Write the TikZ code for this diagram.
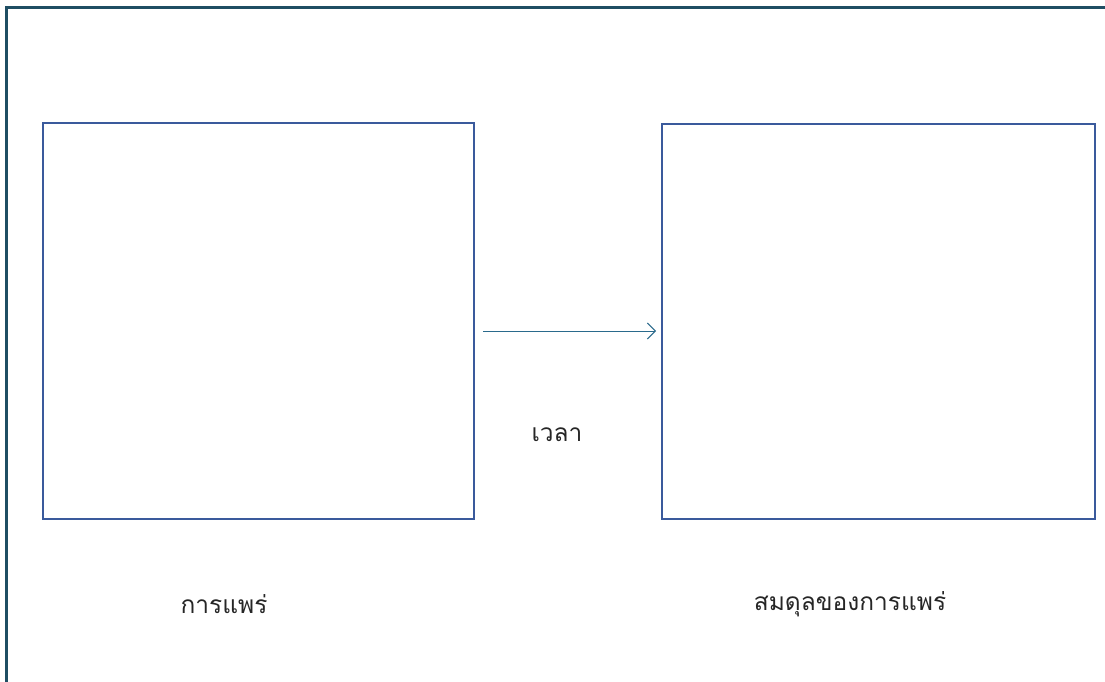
\documentclass[tikz,border=0pt]{standalone}
\usepackage{fontspec}
\newfontfamily\thaifont[Script=Thai]{Loma}
\usetikzlibrary{arrows.meta}
\definecolor{framecol}{HTML}{1F4E63}
\definecolor{boxcol}{HTML}{3A5A9C}
\definecolor{arrowcol}{HTML}{2A6A8C}
\tikzset{
  panel/.style={draw=boxcol, line width=2.2pt, fill=white},
  label/.style={font=\thaifont\fontsize{24.5}{29}\selectfont, text=black!85, inner sep=0pt},
  flow/.style={draw=arrowcol, line width=1pt, -{Straight Barb[length=8pt,width=16pt,line width=1pt]}}
}
\begin{document}
\begin{tikzpicture}[x=1pt,y=-1pt]
\useasboundingbox (0,0) rectangle (1105,682);
\fill[white] (0,0) rectangle (1105,682);
\draw[framecol, line width=3pt] (6,690) -- (6,8) -- (1115,8);
\node[panel, minimum width=431pt, minimum height=396pt, anchor=north west, inner sep=0pt] (diff) at (42,122) {};
\node[panel, minimum width=433pt, minimum height=395pt, anchor=north west, inner sep=0pt] (equi) at (661,123) {};
\coordinate (s) at (483,331);
\coordinate (e) at (656,331);
\draw[flow] (s) -- (e);
\node[label] (time) at (557,435) {เวลา};
\node[label] (ldiff) at (224,604) {การแพร่};
\node[label] (lequi) at (850,604) {สมดุลของการแพร่};
\end{tikzpicture}
\end{document}
